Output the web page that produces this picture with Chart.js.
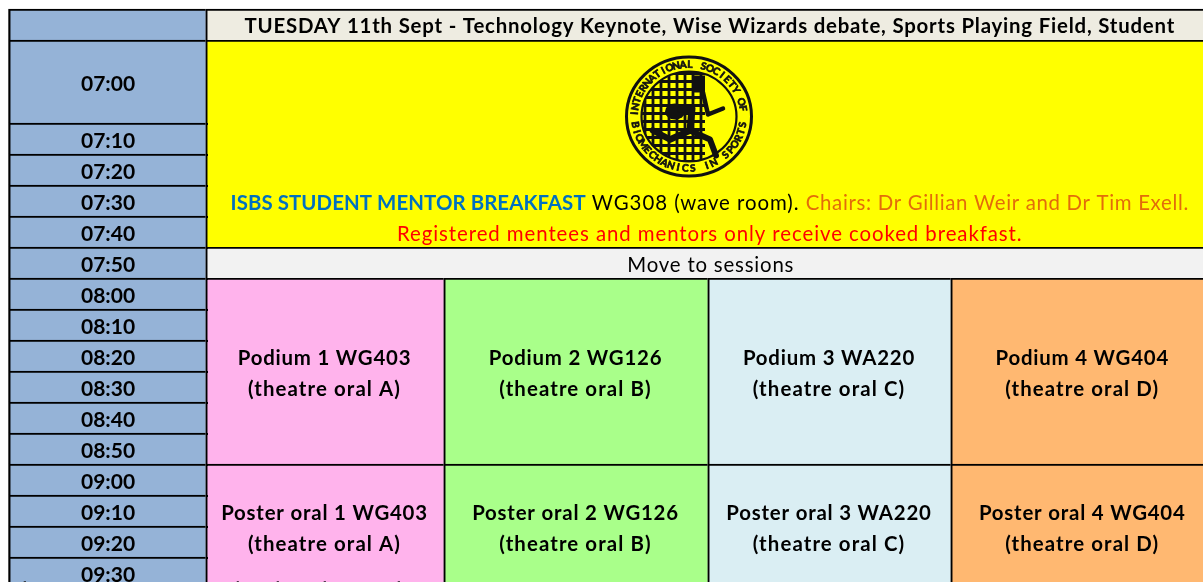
<!DOCTYPE html>
<html><head><meta charset="utf-8">
<style>html,body{margin:0;padding:0;background:#fff;overflow:hidden}canvas{display:block}</style>
<script src="https://cdn.jsdelivr.net/npm/chart.js@4"></script>
</head><body><canvas id="c" width="1203" height="582"></canvas>
<script>
// ---- table content ----
const timeSlots = ["07:00","07:10","07:20","07:30","07:40","07:50","08:00","08:10","08:20","08:30","08:40","08:50","09:00","09:10","09:20","09:30"];
const slotHeights = [2.677,1,1,1,1,1,1,1,1,1,1,1,1,1,1,1];
const headerHeight = 1;
const columnWidths = [197,238,264,243,263.5];
const titleText = "TUESDAY 11th Sept - Technology Keynote, Wise Wizards debate, Sports Playing Field, Student";
const moveText = "Move to sessions";
const breakfastRuns = ["ISBS STUDENT MENTOR BREAKFAST"," WG308 (wave room). ","Chairs: Dr Gillian Weir and Dr Tim Exell."];
const breakfastNote = "Registered mentees and mentors only receive cooked breakfast.";
const podiumNames = ["Podium 1 WG403","Podium 2 WG126","Podium 3 WA220","Podium 4 WG404"];
const posterNames = ["Poster oral 1 WG403","Poster oral 2 WG126","Poster oral 3 WA220","Poster oral 4 WG404"];
const theatreNames = ["(theatre oral A)","(theatre oral B)","(theatre oral C)","(theatre oral D)"];
const columnColours = ["#FFB3EC","#A9FF8A","#DAEEF3","#FFB871"];
const sessionSlots = [6,12,16];   // slot indexes where the session blocks start / end

// ---- derived layout ----
const ROW_PX = 31, LEFT = 8.5, TOP_PX = 9;
const slotTop = i => headerHeight + slotHeights.slice(0,i).reduce((a,b)=>a+b,0);
const colLeft = i => LEFT + columnWidths.slice(0,i).reduce((a,b)=>a+b,0);
const span = (a,b) => ({x:(colLeft(a)+colLeft(b))/2, w:colLeft(b)-colLeft(a)});
const cellDataset = (x,w,color,ranges) => ({
  data: ranges.map(r=>({x, y:r})), backgroundColor: color, barThickness: w,
  borderColor:"#000", borderWidth:{top:2,left:2.3,right:0,bottom:0}, borderSkipped:false, grouped:false
});
const full = span(1,5), time = span(0,1);
const datasets = [
  cellDataset(time.x,time.w,"#95B3D7",[[0,headerHeight],...timeSlots.map((_,i)=>[slotTop(i),slotTop(i+1)])]),
  cellDataset(full.x,full.w,"#EEECE1",[[0,headerHeight]]),
  cellDataset(full.x,full.w,"#FFFF00",[[slotTop(0),slotTop(5)]]),
  cellDataset(full.x,full.w,"#F2F2F2",[[slotTop(5),slotTop(6)]]),
  ...columnColours.map((c,k)=>{const s=span(k+1,k+2);
    return cellDataset(s.x,s.w,c,[[slotTop(sessionSlots[0]),slotTop(sessionSlots[1])],[slotTop(sessionSlots[1]),slotTop(sessionSlots[2])]]);})
];
const F = 'Lato, "Open Sans", sans-serif';
const BOLD = `bold 20.4px ${F}`, REG = `20.4px ${F}`;

function put(ctx,text,x,y,font,color,align,spacing){
  ctx.font=font;ctx.letterSpacing=(spacing===undefined?0.8:spacing)+"px";ctx.fillStyle=color;ctx.textAlign=align||"center";ctx.textBaseline="alphabetic";
  ctx.fillText(text,x,y);
  ctx.letterSpacing="0px";
}
function arcText(ctx,text,a0,a1,rx,ry,flip){
  const n=text.length;
  for(let i=0;i<n;i++){
    const a=a0+(a1-a0)*(i+.5)/n;
    ctx.save();
    ctx.translate(Math.cos(a)*rx,Math.sin(a)*ry);
    ctx.rotate(a+(flip?-Math.PI/2:Math.PI/2));
    ctx.strokeText(text[i],0,0);
    ctx.fillText(text[i],0,0);
    ctx.restore();
  }
}
const logoText = ["INTERNATIONAL SOCIETY OF","BIOMECHANICS IN SPORTS"];
function drawLogo(ctx){
  ctx.save();
  ctx.filter="blur(0.6px)";
  ctx.translate(689,116.5);
  ctx.strokeStyle="#111";ctx.fillStyle="#111";
  const ring=(r,ry,lw)=>{ctx.lineWidth=lw;ctx.beginPath();ctx.ellipse(0,0,r,ry,0,0,Math.PI*2);ctx.stroke();};
  ring(62.5,59.5,3);ring(47.5,45,2.2);
  ctx.font="bold 10px "+F;ctx.textAlign="center";ctx.textBaseline="middle";ctx.lineWidth=0.7;
  arcText(ctx,logoText[0],-Math.PI*1.0,-Math.PI*0.03,54.5,52,false);
  arcText(ctx,logoText[1],Math.PI*0.97,Math.PI*0.03,54.5,52,true);
  // mesh
  ctx.save();
  ctx.beginPath();ctx.ellipse(0,0,47,45,0,0,Math.PI*2);ctx.clip();
  ctx.lineWidth=2.8;
  ctx.beginPath();
  for(let x=-44;x<=16;x+=8){ctx.moveTo(x,-46);ctx.lineTo(x,46);}
  for(let y=-43;y<=46;y+=8){ctx.moveTo(-47,y);ctx.lineTo(16,y);}
  ctx.stroke();
  ctx.restore();
  ctx.fillRect(5,-41,11,17);
  // runner
  ctx.lineJoin="round";ctx.lineCap="round";
  const poly=(pts,lw)=>{ctx.lineWidth=lw;ctx.beginPath();pts.forEach((p,i)=>i?ctx.lineTo(p[0],p[1]):ctx.moveTo(p[0],p[1]));ctx.stroke();};
  ctx.beginPath();ctx.ellipse(-14,-5,10,8,0,0,Math.PI*2);ctx.fill();
  poly([[-8,-7],[3,-8],[1,14]],7);
  poly([[14,-24],[19,-2],[34,-8]],4.5);
  poly([[1,14],[21,23],[27,39]],6);
  poly([[1,14],[-19,23],[-36,14]],6.5);
  ctx.restore();
}
// tops of a further text line that the picture's lower edge cuts off
const cutOffLeft = ["d","t"];
const cutOffSession = ["h","t","t","l","t","l","t","d"];
const cutOffPlaces = [23,77,240,262,268,278,302,325,358,397];
const cellText = {
  id:"cellText",
  afterDatasetsDraw(chart){
    const ctx=chart.ctx, ys=chart.scales.y;
    const el=(d,i)=>chart.getDatasetMeta(d).data[i];
    const mid=(a,b)=>(ys.getPixelForValue(a)+ys.getPixelForValue(b))/2+1;
    // time-row rules run just past the column edge
    ctx.fillStyle="#000";
    timeSlots.forEach((_,i)=>{ if(i>0) ctx.fillRect(colLeft(1)+1,ys.getPixelForValue(slotTop(i)),1.5,2); });
    drawLogo(ctx);
    const cx=el(1,0).x, up=8.4;
    put(ctx,titleText,cx,mid(0,headerHeight)+7.2,BOLD,"#000");
    put(ctx,moveText,cx+1,mid(slotTop(5),slotTop(6))+up,REG,"#000");
    // multi-colour breakfast line
    const fonts=[BOLD,REG,REG], cols=["#0070C0","#000","#E36C0A"], gaps=[0.08,0.96,0.68];
    const ws=breakfastRuns.map((t,i)=>{ctx.font=fonts[i];ctx.letterSpacing=gaps[i]+"px";return ctx.measureText(t).width;});
    ctx.letterSpacing="0px";
    let x=cx-ws.reduce((a,b)=>a+b,0)/2; const by=mid(slotTop(3),slotTop(4))+up;
    breakfastRuns.forEach((t,i)=>{put(ctx,t,x,by,fonts[i],cols[i],"left",gaps[i]);x+=ws[i];});
    put(ctx,breakfastNote,cx,mid(slotTop(4),slotTop(5))+up,REG,"#FF0000","center",0.93);
    // session cells
    columnColours.forEach((_,k)=>{
      const d=4+k,x0=el(d,0).x;
      [podiumNames,posterNames].forEach((names,b)=>{
        const m=mid(slotTop(sessionSlots[b]),slotTop(sessionSlots[b+1]));
        put(ctx,names[k],x0,m-15.5+up,BOLD,"#000");
        put(ctx,theatreNames[k],x0,m+15.5+up,BOLD,"#000","center",1.1);
      });
    });
    [...cutOffLeft,...cutOffSession].forEach((t,i)=>put(ctx,t,cutOffPlaces[i],591,'15px "Liberation Serif"',"#111","center",0));
  }
};
new Chart(document.getElementById("c"),{
  type:"bar",
  data:{datasets},
  plugins:[cellText],
  options:{
    responsive:false,animation:false,events:[],
    layout:{padding:0,autoPadding:false},
    plugins:{legend:{display:false},title:{display:false},tooltip:{enabled:false}},
    scales:{
      x:{type:"linear",min:0,max:1203,display:false,offset:false},
      y:{type:"linear",reverse:true,min:-TOP_PX/ROW_PX,max:(582-TOP_PX)/ROW_PX,
        grid:{display:false,drawTicks:false},border:{display:false},
        afterBuildTicks(s){s.ticks=timeSlots.map((_,i)=>({value:(slotTop(i)+slotTop(i+1))/2+2.3/ROW_PX}));},
        afterFit(s){s.width=0;s.paddingTop=s.paddingBottom=s.paddingLeft=s.paddingRight=0;},
        ticks:{mirror:true,z:2,padding:81,autoSkip:false,color:"#000",font:{family:F,weight:"bold",size:21},
          callback:(v,i)=>timeSlots[i]}
      }
    }
  }
});
</script></body></html>
